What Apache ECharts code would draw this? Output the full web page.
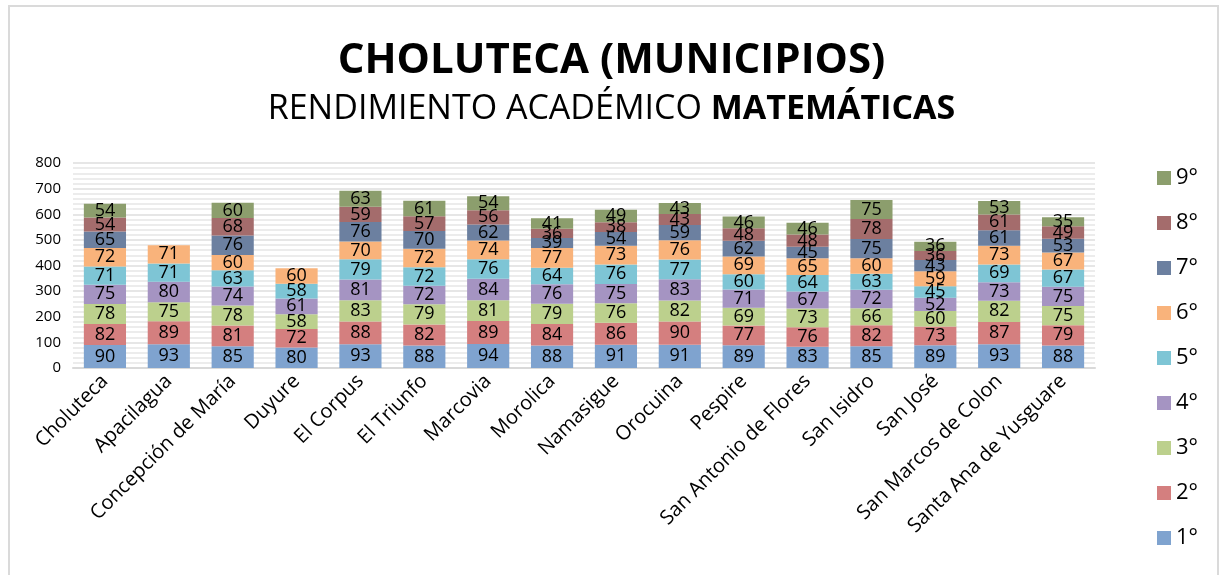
<!DOCTYPE html>
<html>
<head>
<meta charset="utf-8">
<script src="https://cdn.jsdelivr.net/npm/echarts@6/dist/echarts.min.js"></script>
<style>
  html, body { margin: 0; padding: 0; background: #fff; }
  #frame { position: absolute; left: 8px; top: 5px; width: 1207px; height: 600px; border: 2px solid #dadada; }
  #chart { position: absolute; left: 0; top: 0; width: 1223px; height: 575px; }
</style>
</head>
<body>
<div id="frame"></div>
<div id="chart"></div>
<script>
// municipios
const municipios = ['Choluteca', 'Apacilagua', 'Concepción de María', 'Duyure', 'El Corpus', 'El Triunfo',
    'Marcovia', 'Morolica', 'Namasigue', 'Orocuina', 'Pespire', 'San Antonio de Flores',
    'San Isidro', 'San José', 'San Marcos de Colon', 'Santa Ana de Yusguare'];

const grado1 = [90, 93, 85, 80, 93, 88, 94, 88, 91, 91, 89, 83, 85, 89, 93, 88];
const grado2 = [82, 89, 81, 72, 88, 82, 89, 84, 86, 90, 77, 76, 82, 73, 87, 79];
const grado3 = [78, 75, 78, 58, 83, 79, 81, 79, 76, 82, 69, 73, 66, 60, 82, 75];
const grado4 = [75, 80, 74, 61, 81, 72, 84, 76, 75, 83, 71, 67, 72, 52, 73, 75];
const grado5 = [71, 71, 63, 58, 79, 72, 76, 64, 76, 77, 60, 64, 63, 45, 69, 67];
const grado6 = [72, 71, 60, 60, 70, 72, 74, 77, 73, 76, 69, 65, 60, 59, 73, 67];
const grado7 = [65, null, 76, null, 76, 70, 62, 39, 54, 59, 62, 45, 75, 43, 61, 53];
const grado8 = [54, null, 68, null, 59, 57, 56, 36, 38, 43, 48, 48, 78, 36, 61, 49];
const grado9 = [54, null, 60, null, 63, 61, 54, 41, 49, 43, 46, 46, 75, 36, 53, 35];

const grados = ['1°', '2°', '3°', '4°', '5°', '6°', '7°', '8°', '9°'];
const valores = [grado1, grado2, grado3, grado4, grado5, grado6, grado7, grado8, grado9];
const colores = ['#7fa3cf', '#d47f7f', '#bcd08d', '#a594c2', '#7ec5d5', '#f9b37b', '#6c80a0', '#a46c6c', '#8c9e6d'];

const FONT = 'Open Sans';

const chart = echarts.init(document.getElementById('chart'));

chart.setOption({
    animation: false,
    textStyle: { fontFamily: FONT },
    title: {
        left: 'center',
        top: 35,
        itemGap: 10,
        text: 'CHOLUTECA (MUNICIPIOS)',
        textStyle: { fontSize: 42, fontWeight: 'bold', color: '#000', fontFamily: FONT },
        subtext: '{n|RENDIMIENTO ACADÉMICO }{b|MATEMÁTICAS}',
        subtextStyle: {
            rich: {
                n: { fontSize: 34, color: '#000', fontFamily: FONT },
                b: { fontSize: 34, color: '#000', fontWeight: 'bold', fontFamily: FONT }
            }
        }
    },
    legend: {
        orient: 'vertical',
        right: 20,
        top: 162,
        itemWidth: 14,
        itemHeight: 14,
        itemGap: 23,
        icon: 'rect',
        data: grados.slice().reverse(),
        textStyle: { fontSize: 22, color: '#000', fontFamily: FONT }
    },
    grid: { left: 73, right: 128, top: 163, bottom: 207 },
    xAxis: {
        type: 'category',
        data: municipios,
        axisTick: { show: false },
        axisLine: { lineStyle: { color: '#d9d9d9', width: 2 } },
        axisLabel: { rotate: 45, fontSize: 20, color: '#000', margin: 10, interval: 0 }
    },
    yAxis: {
        type: 'value',
        min: 0,
        max: 800,
        interval: 100,
        axisLabel: { fontSize: 15, color: '#000', margin: 12 },
        splitLine: { lineStyle: { color: '#e6e6e6', width: 2 } },
        minorTick: { show: false, splitNumber: 5 },
        minorSplitLine: { show: true, lineStyle: { color: '#ececec', width: 2 } }
    },
    series: grados.map((g, i) => ({
        name: g,
        type: 'bar',
        stack: 'total',
        barWidth: '66%',
        data: valores[i],
        itemStyle: { color: colores[i] },
        label: {
            show: true,
            position: 'inside',
            fontSize: 18,
            color: '#000',
            fontFamily: FONT
        }
    }))
});
</script>
</body>
</html>
